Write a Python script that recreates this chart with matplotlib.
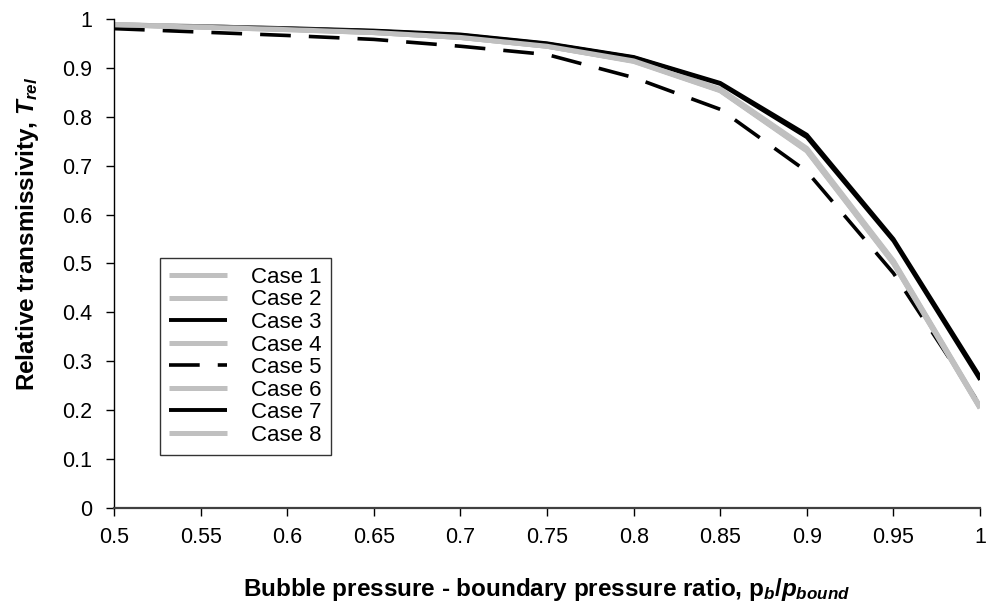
import matplotlib
matplotlib.use("Agg")
import matplotlib.pyplot as plt

plt.rcParams['font.family'] = ['Liberation Sans', 'DejaVu Sans']
plt.rcParams['mathtext.fontset'] = 'custom'
plt.rcParams['mathtext.rm'] = 'Liberation Sans:bold'
plt.rcParams['mathtext.it'] = 'Liberation Sans:bold:italic'
plt.rcParams['mathtext.bf'] = 'Liberation Sans:bold'

# pressure ratio p_b / p_bound
ratio = [0.5, 0.55, 0.6, 0.65, 0.7, 0.75, 0.8, 0.85, 0.9, 0.95, 1.0]

case1 = [0.988, 0.984, 0.979, 0.973, 0.963, 0.945, 0.915, 0.856, 0.735, 0.505, 0.207]
case2 = [0.988, 0.984, 0.979, 0.972, 0.962, 0.944, 0.914, 0.854, 0.732, 0.502, 0.205]
case3 = [0.987, 0.985, 0.981, 0.976, 0.968, 0.950, 0.922, 0.869, 0.763, 0.550, 0.268]
case4 = [0.988, 0.983, 0.978, 0.972, 0.962, 0.944, 0.913, 0.853, 0.730, 0.500, 0.205]
case5 = [0.980, 0.973, 0.966, 0.958, 0.944, 0.927, 0.880, 0.815, 0.688, 0.480, 0.210]
case6 = [0.988, 0.984, 0.979, 0.973, 0.963, 0.945, 0.915, 0.855, 0.733, 0.503, 0.206]
case7 = [0.987, 0.984, 0.980, 0.975, 0.967, 0.949, 0.921, 0.867, 0.758, 0.546, 0.262]
case8 = [0.988, 0.983, 0.978, 0.972, 0.962, 0.944, 0.914, 0.854, 0.731, 0.501, 0.204]

names = ['Case 1', 'Case 2', 'Case 3', 'Case 4', 'Case 5', 'Case 6', 'Case 7', 'Case 8']
series = [case1, case2, case3, case4, case5, case6, case7, case8]

grey = '#c0c0c0'
styles = {
    'Case 1': dict(color=grey, lw=3.6),
    'Case 2': dict(color=grey, lw=3.6),
    'Case 3': dict(color='black', lw=2.8),
    'Case 4': dict(color=grey, lw=3.6),
    'Case 5': dict(color='black', lw=2.6, dashes=(8.5, 5)),
    'Case 6': dict(color=grey, lw=3.6),
    'Case 7': dict(color='black', lw=2.8),
    'Case 8': dict(color=grey, lw=3.6),
}

fig = plt.figure(figsize=(9.86, 6.08), dpi=100)
ax = fig.add_axes([0.1156, 0.1645, 0.8784, 0.8045])

for name, vals in zip(names, series):
    ax.plot(ratio, vals, label=name, solid_capstyle='butt', **styles[name])

ax.set_xlim(0.5, 1.0)
ax.set_ylim(0, 1)
ax.set_xticks(ratio)
ax.set_xticklabels(['0.5', '0.55', '0.6', '0.65', '0.7', '0.75', '0.8', '0.85', '0.9', '0.95', '1'])
ax.set_yticks([i / 10 for i in range(11)])
ax.set_yticklabels(['0', '0.1', '0.2', '0.3', '0.4', '0.5', '0.6', '0.7', '0.8', '0.9', '1'])

ax.spines['top'].set_visible(False)
ax.spines['right'].set_visible(False)
ax.spines['left'].set_linewidth(1.0)
ax.spines['bottom'].set_linewidth(1.6)
ax.spines['bottom'].set_color('#404040')
ax.tick_params(axis='both', direction='out', length=6, width=1.0, labelsize=15.5)
ax.tick_params(axis='x', pad=8)
ax.tick_params(axis='y', pad=10)

ax.set_xlabel(r'Bubble pressure - boundary pressure ratio, p$_{b}$/$p_{bound}$',
              fontsize=17.5, fontweight='bold', labelpad=20)
ax.set_ylabel(r'Relative transmissivity, $T_{rel}$',
              fontsize=17.5, fontweight='bold')
ax.yaxis.set_label_coords(-0.084, 0.56)

leg = ax.legend(loc='upper left', bbox_to_anchor=(0.053, 0.511), fontsize=16,
                frameon=True, fancybox=False, edgecolor='black', handlelength=2.6,
                labelspacing=0.07, borderpad=0.4, handletextpad=1.1,
                borderaxespad=0)
leg.get_frame().set_linewidth(1.0)

fig.savefig('out.png', dpi=100)
